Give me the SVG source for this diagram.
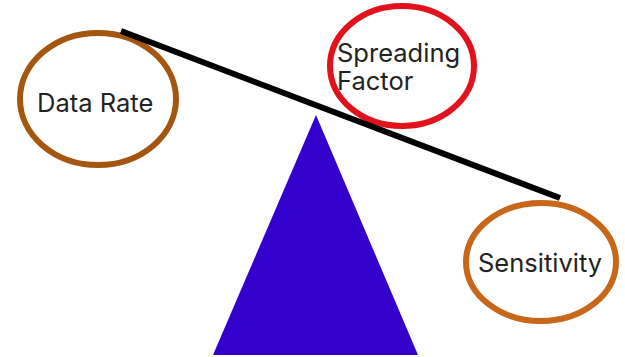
<svg xmlns="http://www.w3.org/2000/svg" width="625" height="357" viewBox="0 0 625 357">
<style>
.bg{fill:#ffffff}
.node{fill:#ffffff;stroke-width:6}
.lbl{font-family:"Inter","Liberation Sans",sans-serif;font-size:25.5px;fill:#222222}
</style>
<rect class="bg" x="0" y="0" width="625" height="357"/>
<g id="fulcrum"><polygon points="316,115 213,355 418,355" fill="#3300cc"/></g>
<g id="data-rate">
<ellipse class="node" cx="98" cy="99" rx="78" ry="66" stroke="#a45510"/>
<text class="lbl" x="37" y="112">Data Rate</text>
</g>
<g id="spreading-factor">
<ellipse class="node" cx="402" cy="66" rx="72" ry="60" stroke="#e2121c"/>
<text class="lbl" x="337" y="62">Spreading</text>
<text class="lbl" x="337" y="90">Factor</text>
</g>
<g id="sensitivity">
<ellipse class="node" cx="541" cy="262" rx="75" ry="59" stroke="#c8661a"/>
<text class="lbl" x="478" y="272">Sensitivity</text>
</g>
<g id="connectors"><line x1="121" y1="31" x2="560" y2="198" stroke="#000" stroke-width="6"/></g>
</svg>
